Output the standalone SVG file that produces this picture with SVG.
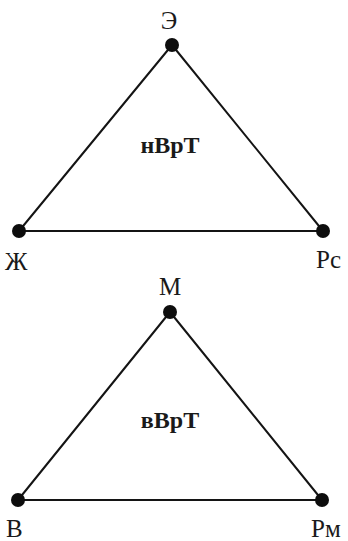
<svg xmlns="http://www.w3.org/2000/svg" width="348" height="541" viewBox="0 0 348 541">
<style>
.edge{stroke:#141414;stroke-width:2;fill:none;stroke-linecap:round}
.dot{fill:#0d0d0d}
text{font-family:'Liberation Serif','DejaVu Serif','Times New Roman',serif;fill:#1a1a1a}
.lbl{font-size:25px}
.ttl{font-size:24px;font-weight:bold;text-anchor:middle}
</style>
<rect width="348" height="541" fill="#ffffff"/>
<g id="connectors">
<line class="edge" x1="172" y1="45" x2="19" y2="231"/>
<line class="edge" x1="172" y1="45" x2="323" y2="231"/>
<line class="edge" x1="19" y1="231" x2="323" y2="231"/>
<line class="edge" x1="170" y1="312" x2="18" y2="500"/>
<line class="edge" x1="170" y1="312" x2="322" y2="500"/>
<line class="edge" x1="18" y1="500" x2="322" y2="500"/>
</g>
<g id="node-E"><circle class="dot" cx="172" cy="45" r="7"/><text class="lbl" x="169" y="29" text-anchor="middle" font-family="Liberation Serif, serif">Э</text></g>
<g id="node-Zh"><circle class="dot" cx="19" cy="231" r="7"/><text class="lbl" x="5" y="270" font-family="Liberation Serif, serif">Ж</text></g>
<g id="node-Rs"><circle class="dot" cx="323" cy="231" r="7"/><text class="lbl" x="316" y="268" font-family="Liberation Serif, serif">Рс</text></g>
<g id="title-top"><text class="ttl" x="170" y="153" font-family="Liberation Serif, serif">нВрТ</text></g>
<g id="node-M"><circle class="dot" cx="170" cy="312" r="7"/><text class="lbl" x="170" y="295" text-anchor="middle" font-family="Liberation Serif, serif">М</text></g>
<g id="node-V"><circle class="dot" cx="18" cy="500" r="7"/><text class="lbl" x="6" y="537" font-family="Liberation Serif, serif">В</text></g>
<g id="node-Rm"><circle class="dot" cx="322" cy="500" r="7"/><text class="lbl" x="311" y="537" font-family="Liberation Serif, serif">Рм</text></g>
<g id="title-bottom"><text class="ttl" x="170" y="428" font-family="Liberation Serif, serif">вВрТ</text></g>
</svg>
